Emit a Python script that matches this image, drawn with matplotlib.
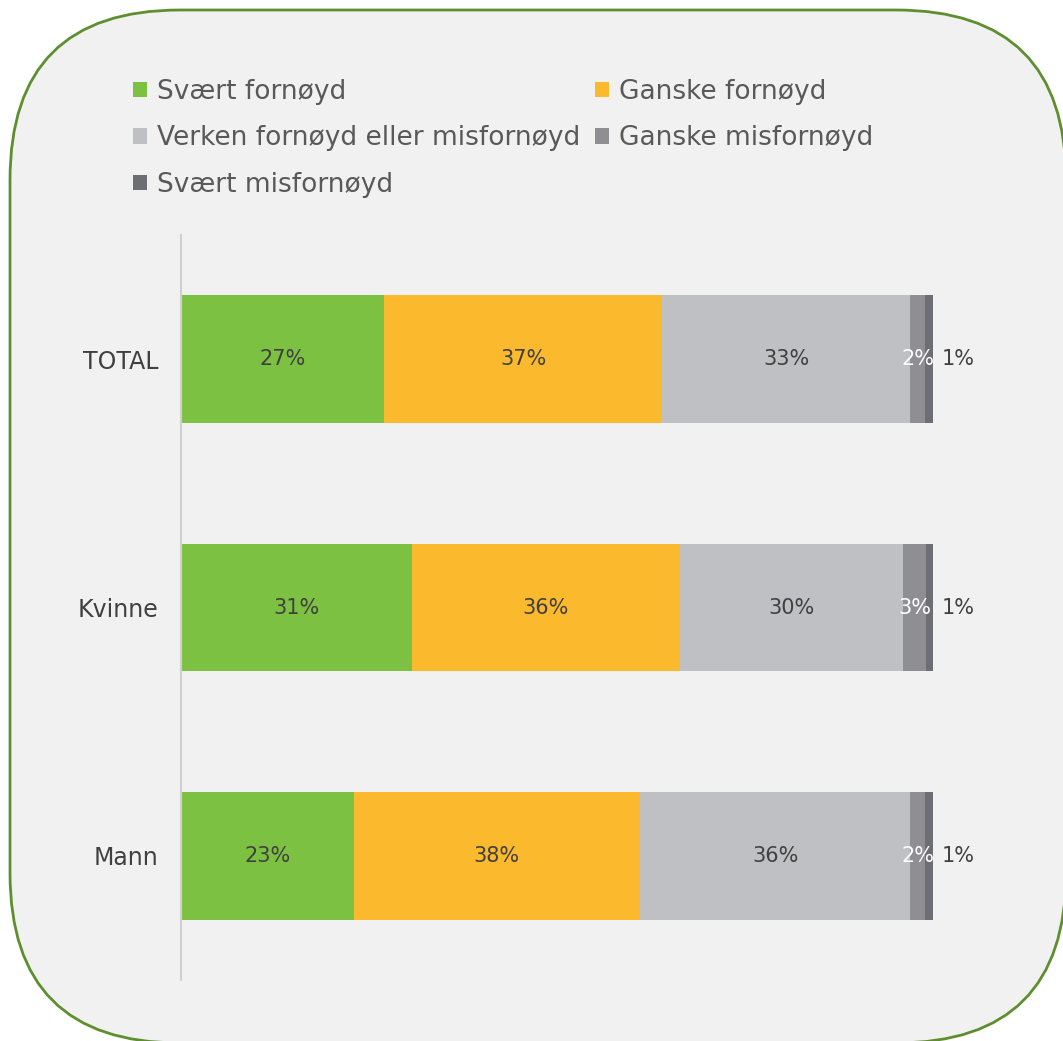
import numpy as np
import matplotlib
matplotlib.use("Agg")
import matplotlib.pyplot as plt
from matplotlib.patches import FancyBboxPatch

# ---- data -------------------------------------------------------------
groups = ["TOTAL", "Kvinne", "Mann"]
series = ["Svært fornøyd", "Ganske fornøyd", "Verken fornøyd eller misfornøyd",
          "Ganske misfornøyd", "Svært misfornøyd"]
svaert_fornoyd = [27, 31, 23]
ganske_fornoyd = [37, 36, 38]
verken = [33, 30, 36]
ganske_misfornoyd = [2, 3, 2]
svaert_misfornoyd = [1, 1, 1]

colors = ["#7dc142", "#fbb92e", "#bfc0c4", "#8e8e93", "#6d6d74"]
label_colors = ["#404040", "#404040", "#404040", "white", "#404040"]

values = np.array([svaert_fornoyd, ganske_fornoyd, verken,
                   ganske_misfornoyd, svaert_misfornoyd], dtype=float)
# 100% stacked: normalise each group to its total
shares = values / values.sum(axis=0) * 100

W, H = 1063, 1041
fig = plt.figure(figsize=(W / 100, H / 100), dpi=100, facecolor="white")

# rounded frame in pixel coordinates
bg = fig.add_axes([0, 0, 1, 1])
bg.set_xlim(0, W)
bg.set_ylim(H, 0)
bg.axis("off")
frame = FancyBboxPatch((10, 10), 1056, 1033,
                       boxstyle="round,pad=0,rounding_size=170",
                       facecolor="#f1f1f1", edgecolor="#5e8f2f", linewidth=2.0)
bg.add_patch(frame)

# ---- bars ---------------------------------------------------------------
ax = fig.add_axes([181 / W, 61 / H, 752 / W, 745 / H])
ax.patch.set_alpha(0)
y = np.arange(len(groups))
left = np.zeros(len(groups))
handles = []
for i, name in enumerate(series):
    bars = ax.barh(y, shares[i], left=left, height=0.515, color=colors[i],
                   label=name)
    handles.append(bars)
    for j in range(len(groups)):
        txt = f"{values[i, j]:.0f}%"
        if i == len(series) - 1:
            ax.text(left[j] + shares[i, j] + 1.2, y[j], txt, ha="left",
                    va="center", fontsize=15, color=label_colors[i])
        else:
            ax.text(left[j] + shares[i, j] / 2, y[j], txt, ha="center",
                    va="center", fontsize=15, color=label_colors[i])
    left += shares[i]

ax.set_xlim(0, 100)
ax.set_ylim(2.5, -0.5)
ax.set_yticks(y)
ax.set_yticklabels(groups, fontsize=17, color="#404040")
ax.tick_params(axis="y", length=0, pad=16)
ax.set_xticks([])
for s in ["top", "right", "bottom"]:
    ax.spines[s].set_visible(False)
ax.spines["left"].set_color("#d0d0d0")
ax.spines["left"].set_linewidth(1.5)

# legend, row-wise order across two columns
order = [0, 2, 4, 1, 3]
leg = fig.legend([handles[k] for k in order], [series[k] for k in order],
                 ncol=2, loc="upper left", bbox_to_anchor=(109 / W, 1 - 55 / H),
                 frameon=False, fontsize=19, handlelength=0.53, handleheight=0.53,
                 handletextpad=0.38, columnspacing=0.57, labelspacing=0.78,
                 labelcolor="#595959")

fig.savefig("out.png", dpi=100, facecolor="white")
